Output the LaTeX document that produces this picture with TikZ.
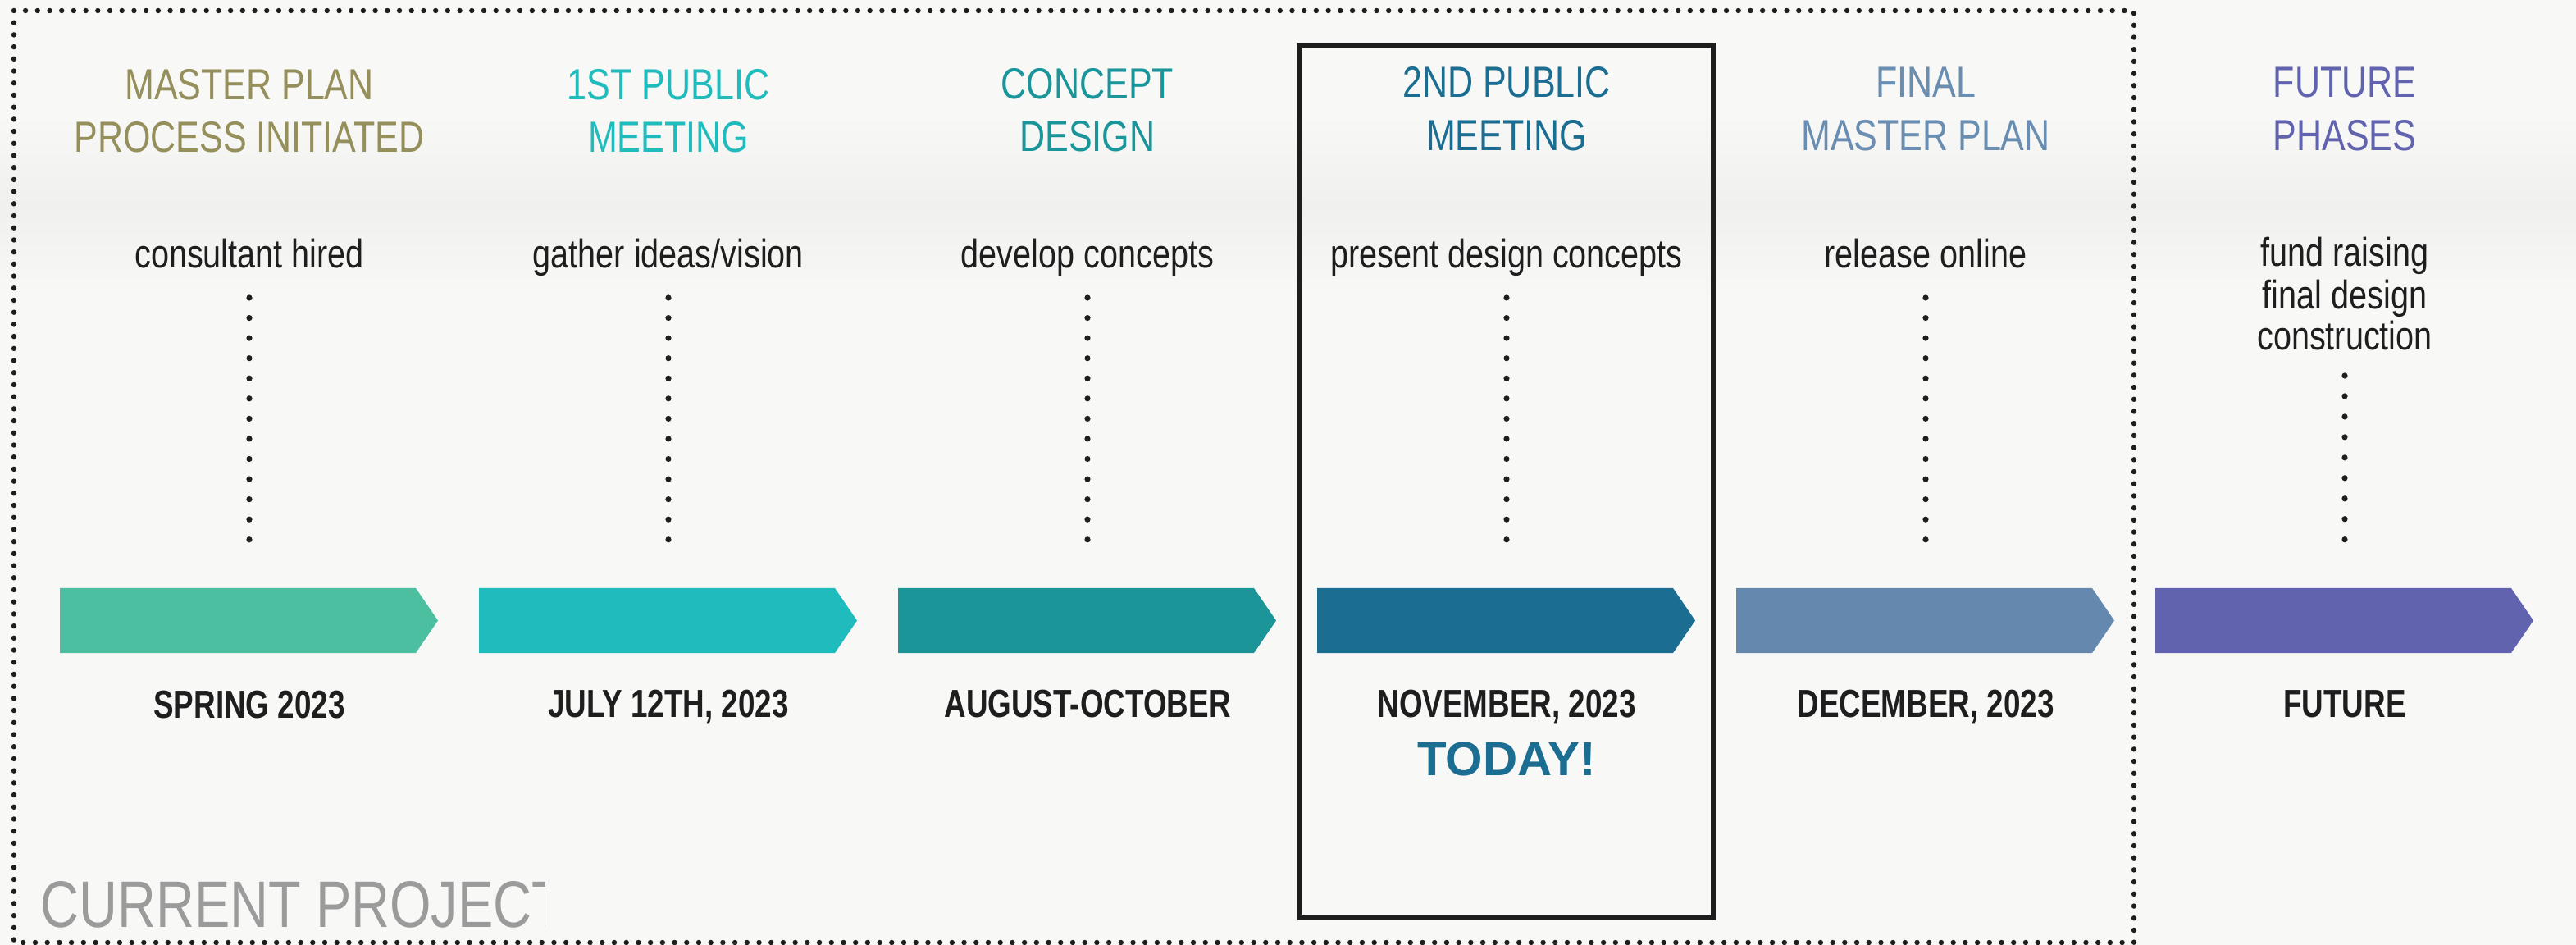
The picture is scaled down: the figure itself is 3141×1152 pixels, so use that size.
\documentclass[tikz,border=0pt]{standalone}
\usepackage{fontspec}
\setmainfont{Liberation Sans}[FakeStretch=0.81]
\newfontfamily\datefont{Liberation Sans}[FakeStretch=0.77]
\newfontfamily\todayfont{Liberation Sans}
\newfontfamily\cpfont{Liberation Sans}[FakeStretch=0.81]
\definecolor{bgc}{HTML}{F8F8F7}
\definecolor{bandc}{HTML}{F0F0EF}
\definecolor{txt}{HTML}{1E1E1E}
\definecolor{h1}{HTML}{958F5B}
\definecolor{a1}{HTML}{4BBFA0}
\definecolor{h2}{HTML}{1FBBBD}
\definecolor{a2}{HTML}{1FBBBD}
\definecolor{h3}{HTML}{1A9599}
\definecolor{a3}{HTML}{1C9599}
\definecolor{h4}{HTML}{1B6D91}
\definecolor{a4}{HTML}{1B6D91}
\definecolor{h5}{HTML}{6A8DB2}
\definecolor{a5}{HTML}{6589AE}
\definecolor{h6}{HTML}{6163AE}
\definecolor{a6}{HTML}{6163AE}
\definecolor{cpgray}{HTML}{9B9B9B}
\tikzset{
  head/.style={font=\fontsize{15.1pt}{18pt}\selectfont, anchor=base, inner sep=0pt},
  desc/.style={font=\fontsize{13.9pt}{16pt}\selectfont, text=txt, anchor=base, inner sep=0pt},
  datelbl/.style={font=\fontsize{13.6pt}{16pt}\selectfont\datefont\bfseries, text=txt, anchor=base, inner sep=0pt},
  dotline/.style={line width=0.072cm, line cap=round, draw=txt, dash pattern=on 0pt off 0.2455cm},
  framedots/.style={line width=0.064cm, line cap=round, draw=txt, dash pattern=on 0pt off 0.147cm},
  todaybox/.style={draw=txt, line width=0.062cm, minimum width=5.04cm, minimum height=10.64cm, inner sep=0pt}
}
\begin{document}
\begin{tikzpicture}[x=0.01cm,y=-0.01cm]
\useasboundingbox (0,0) rectangle (3141,1152);
\fill[bgc] (0,0) rectangle (3141,1152);
\shade[top color=bgc, bottom color=bgc, middle color=bandc] (0,140) rectangle (3141,360);

% outer dotted frame
\coordinate (fr1) at (17,13);
\coordinate (fr2) at (2602,1149);
\draw[framedots] (fr1) rectangle (fr2);

% today box
\node[todaybox] (today box) at (1837,587) {};

% arrows and dotted connectors
\foreach \i/\cx in {1/304,2/815,3/1326,4/1837,5/2348,6/2859}{
  \fill[a\i] ({\cx-231},717) -- ({\cx+203},717) -- ({\cx+230},756.5) -- ({\cx+203},796) -- ({\cx-231},796) -- cycle;
  \coordinate (arrow\i) at (\cx,717);
}
\foreach \i/\cx in {1/304,2/815,3/1326,4/1837,5/2348}{
  \coordinate (dtop\i) at (\cx,363);
  \coordinate (dbot\i) at (\cx,658);
  \draw[dotline] (dtop\i) -- (dbot\i);
}
\coordinate (dtop6) at (2859,458);
\coordinate (dbot6) at (2859,658);
\draw[dotline, dash pattern=on 0pt off 0.2495cm] (dtop6) -- (dbot6);

% headers
\node[head, text=h1] (h1a) at (304,122) {MASTER PLAN};
\node[head, text=h1] (h1b) at (304,186) {PROCESS INITIATED};
\node[head, text=h2] (h2a) at (815,122) {1ST PUBLIC};
\node[head, text=h2] (h2b) at (815,186) {MEETING};
\node[head, text=h3] (h3a) at (1326,121) {CONCEPT};
\node[head, text=h3] (h3b) at (1326,185) {DESIGN};
\node[head, text=h4] (h4a) at (1837,119) {2ND PUBLIC};
\node[head, text=h4] (h4b) at (1837,184) {MEETING};
\node[head, text=h5] (h5a) at (2348,119) {FINAL};
\node[head, text=h5] (h5b) at (2348,184) {MASTER PLAN};
\node[head, text=h6] (h6a) at (2859,119) {FUTURE};
\node[head, text=h6] (h6b) at (2859,184) {PHASES};

% descriptions
\node[desc] (d1) at (304,327) {consultant hired};
\node[desc] (d2) at (815,327) {gather ideas/vision};
\node[desc] (d3) at (1326,327) {develop concepts};
\node[desc] (d4) at (1837,327) {present design concepts};
\node[desc] (d5) at (2348,327) {release online};
\node[desc] (d6a) at (2859,325) {fund raising};
\node[desc] (d6b) at (2859,377) {final design};
\node[desc] (d6c) at (2859,427) {construction};

% dates
\node[datelbl] (t1) at (304,876) {SPRING 2023};
\node[datelbl] (t2) at (815,874) {JULY 12TH, 2023};
\node[datelbl] (t3) at (1326,874) {AUGUST-OCTOBER};
\node[datelbl] (t4) at (1837,874) {NOVEMBER, 2023};
\node[datelbl] (t5) at (2348,874) {DECEMBER, 2023};
\node[datelbl] (t6) at (2859,874) {FUTURE};
\node[anchor=base, inner sep=0pt, text=h4, font=\fontsize{16.6pt}{19pt}\selectfont\todayfont\bfseries] (todaylbl) at (1837,945) {TODAY!};

% current project label (clipped)
\begin{scope}
  \clip (0,1000) rectangle (664,1152);
  \node[anchor=base west, inner sep=0pt, text=cpgray, font=\fontsize{22.8pt}{26pt}\selectfont\cpfont] (cp) at (49,1130) {CURRENT PROJECT};
\end{scope}
\end{tikzpicture}
\end{document}
